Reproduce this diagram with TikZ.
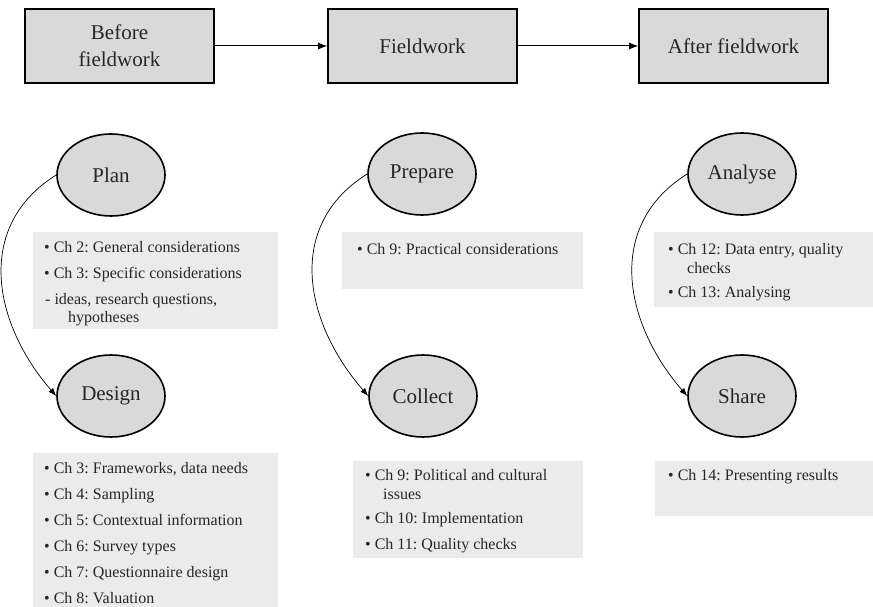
\documentclass[tikz,border=0pt]{standalone}
\usepackage{fontspec}
\setmainfont{Liberation Serif}
\usetikzlibrary{arrows.meta,shapes.geometric}
\definecolor{boxgray}{HTML}{D9D9D9}
\definecolor{panelgray}{HTML}{EBEBEB}
\definecolor{txt}{HTML}{262626}
\frenchspacing
\begin{document}
\begin{tikzpicture}[x=1pt,y=1pt,
  stage/.style={draw=black, line width=1.6pt, fill=boxgray, minimum width=189pt, minimum height=74pt, inner sep=0pt, font=\fontsize{21}{27}\selectfont, text=txt, align=center},
  phase/.style={ellipse, draw=black, line width=1.6pt, fill=boxgray, minimum width=108pt, minimum height=82pt, inner sep=0pt, font=\fontsize{21}{25}\selectfont, text=txt},
  panel/.style={fill=panelgray, anchor=north west, inner sep=0pt},
  item/.style={anchor=base west, inner sep=0pt, font=\fontsize{16}{19}\selectfont, text=txt},
  flow/.style={-{Latex[length=9pt,width=7pt]}, line width=1pt},
  cycle/.style={-{Latex[length=8pt,width=6pt]}, line width=0.7pt}
]
\useasboundingbox (0,0) rectangle (873,-607);

% stages
\node[stage] (before) at (119.5,-46) {Before\\fieldwork};
\node[stage] (field) at (422.5,-46) {Fieldwork};
\node[stage] (after) at (733.5,-46) {After fieldwork};
\draw[flow] (before.east) -- (field.west);
\draw[flow] (field.east) -- (after.west);

% panels
\node[panel, minimum width=245pt, minimum height=97pt] (planpanel) at (33,-232) {};
\node[panel, minimum width=241pt, minimum height=57pt] (preppanel) at (342,-232) {};
\node[panel, minimum width=219pt, minimum height=75pt] (anapanel) at (654,-232) {};
\node[panel, minimum width=245pt, minimum height=154pt] (despanel) at (33,-453) {};
\node[panel, minimum width=230pt, minimum height=97pt] (colpanel) at (353,-461) {};
\node[panel, minimum width=218pt, minimum height=55pt] (sharepanel) at (655,-461) {};

% phases
\node[phase] (plan) at (111,-175) {Plan};
\node[phase] (design) at (111,-396) {Design};
\node[phase] (prepare) at (422,-174) {Prepare};
\node[phase] (collect) at (423,-396) {Collect};
\node[phase] (analyse) at (742,-174) {Analyse};
\node[phase] (share) at (742,-396) {Share};

\draw[cycle] (plan.west) to[out=212,in=131,looseness=1.12] (design.west);
\draw[cycle] (prepare.west) to[out=212,in=131,looseness=1.12] (collect.west);
\draw[cycle] (analyse.west) to[out=212,in=131,looseness=1.12] (share.west);

% plan items
\node[item] (p1) at (44,-252) {• Ch 2: General considerations};
\node[item] (p2) at (44,-278) {• Ch 3: Specific considerations};
\node[item] (p3) at (45,-304) {- ideas, research questions,};
\node[item] (p4) at (68,-322) {hypotheses};
% prepare items
\node[item] (r1) at (357,-254) {• Ch 9: Practical considerations};
% analyse items
\node[item] (a1) at (668,-254) {• Ch 12: Data entry, quality};
\node[item] (a2) at (687,-273) {checks};
\node[item] (a3) at (668,-297) {• Ch 13: Analysing};
% design items
\node[item] (d1) at (44,-473) {• Ch 3: Frameworks, data needs};
\node[item] (d2) at (44,-499) {• Ch 4: Sampling};
\node[item] (d3) at (44,-525) {• Ch 5: Contextual information};
\node[item] (d4) at (44,-551) {• Ch 6: Survey types};
\node[item] (d5) at (44,-577) {• Ch 7: Questionnaire design};
\node[item] (d6) at (44,-603) {• Ch 8: Valuation};
% collect items
\node[item] (c1) at (365,-480) {• Ch 9: Political and cultural};
\node[item] (c2) at (383,-499) {issues};
\node[item] (c3) at (365,-523) {• Ch 10: Implementation};
\node[item] (c4) at (365,-549) {• Ch 11: Quality checks};
% share items
\node[item] (s1) at (668,-480) {• Ch 14: Presenting results};
\end{tikzpicture}
\end{document}
